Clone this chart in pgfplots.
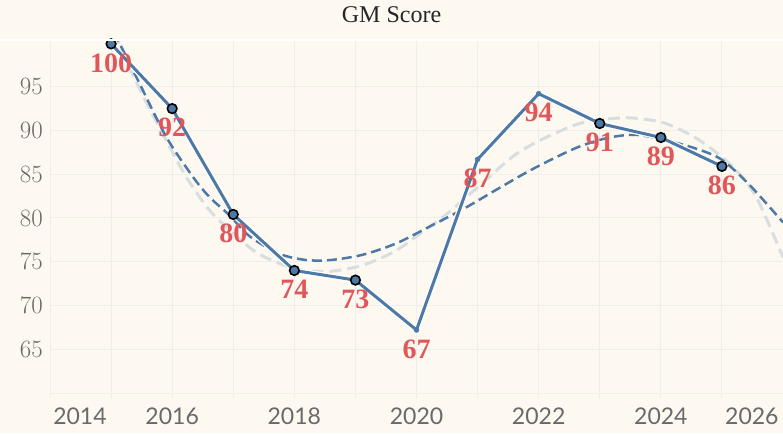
\documentclass[border=0pt]{standalone}
\usepackage{fontspec}
\setmainfont{Liberation Serif}
\newfontfamily\tickfont{Lato}
\usepackage{pgfplots}
\pgfplotsset{compat=1.18}
\definecolor{bg}{RGB}{253,249,241}
\definecolor{gridc}{RGB}{238,239,237}
\definecolor{tblue}{RGB}{78,121,167}
\definecolor{tred}{RGB}{225,87,89}
\definecolor{lgray}{RGB}{216,222,224}
\definecolor{tickc}{RGB}{105,105,105}
\begin{document}
\begin{tikzpicture}
\fill[bg] (-50pt,-40pt) rectangle (733pt,393pt);
\useasboundingbox (-50pt,-40pt) rectangle (733pt,393pt);
\node[font=\fontsize{24}{28}\selectfont, text=black!85, anchor=center] at (341.5pt,378pt) {GM Score};
\begin{axis}[
  at={(0pt,0pt)}, anchor=south west,
  scale only axis, width=733pt, height=353pt,
  xmin=0, xmax=12, ymin=60, ymax=100.34,
  axis background/.style={fill=bg},
  axis x line*=bottom, axis y line*=left,
  x axis line style={draw=gridc, line width=1pt},
  y axis line style={draw=none},
  ytick={65,70,...,95},
  ymajorgrids,
  xtick={0.49,2,4,6,8,10,11.49},
  xticklabels={2014,2016,2018,2020,2022,2024,2026},
  minor xtick={0,1,...,12},
  xminorgrids,
  grid style={draw=gridc, line width=1pt},
  minor grid style={draw=gridc, line width=1pt},
  major tick length=0pt,
  minor tick length=5pt,
  tick align=outside,
  minor x tick style={draw=gridc, line width=1pt},
  tick label style={font=\tickfont\fontsize{23}{26}\selectfont, text=tickc},
  yticklabel style={anchor=east, inner sep=0pt, xshift=-7pt},
  xticklabel style={anchor=north, inner sep=0pt, yshift=-15pt},
]
% light gray trend (higher order)
\addplot[lgray, line width=3pt, dash pattern=on 12pt off 6pt, smooth] coordinates {
(1.05,101.2) (1.45,95.0) (1.90,88.9) (2.23,84.7) (2.61,80.9) (2.99,78.3)
(3.37,76.1) (3.76,74.8) (4.08,74.1) (4.57,73.9) (5.12,74.6) (5.67,76.3)
(6.21,79.0) (6.54,80.7) (7.08,84.0) (7.63,87.3) (8.18,89.4) (8.72,90.9)
(9.27,91.4) (9.59,91.4) (10.08,90.8) (10.63,88.9) (11.17,85.9) (11.56,82.4)
(12.0,75.5)
};
% blue dashed trend (cubic)
\addplot[tblue, line width=2.5pt, dash pattern=on 10pt off 5pt, smooth] coordinates {
(1.05,101.2) (1.45,95.6) (1.90,89.3) (2.34,84.7) (2.61,82.4) (2.94,80.3)
(3.27,77.9) (3.76,75.9) (4.19,75.2) (4.60,75.2) (5.12,75.8) (5.67,77.1)
(6.21,79.0) (6.76,81.0) (7.30,83.2) (7.85,85.4) (8.39,87.3) (8.72,88.3)
(9.16,89.2) (9.59,89.5) (10.08,88.9) (10.63,87.8) (11.01,86.6) (11.45,83.8)
(12.0,79.5)
};
% main line with white halo
\addplot[white, line width=5.5pt, forget plot] coordinates {
(1,99.9) (2,92.5) (3,80.4) (4,74.0) (5,72.9) (6,67.2) (7,86.7)
(8,94.2) (9,90.8) (10,89.2) (11,85.9)
};
\addplot[tblue, line width=3pt] coordinates {
(1,99.9) (2,92.5) (3,80.4) (4,74.0) (5,72.9) (6,67.2) (7,86.7)
(8,94.2) (9,90.8) (10,89.2) (11,85.9)
};
% small dots
\addplot[only marks, mark=*, mark size=2.5pt, mark options={fill=tblue, draw=tblue}] coordinates {
(6,67.2) (7,86.7) (8,94.2)
};
% circled markers
\addplot[only marks, mark=*, mark size=4.8pt, mark options={fill=tblue, draw=black, line width=1.6pt}] coordinates {
(1,99.9) (2,92.5) (3,80.4) (4,74.0) (5,72.9) (9,90.8) (10,89.2) (11,85.9)
};
% labels
\addplot[draw=none, mark=none, nodes near coords, point meta=explicit symbolic,
  every node near coord/.append style={anchor=north, inner sep=0pt, yshift=-9.5pt,
  font=\bfseries\fontsize{28}{30}\selectfont, text=tred}] table[meta=label] {
x y label
1 99.9 100
2 92.5 92
3 80.4 80
4 74.0 74
5 72.9 73
6 67.2 67
7 86.7 87
8 94.2 94
9 90.8 91
10 89.2 89
11 85.9 86
};
\draw[gridc, line width=1pt] (axis cs:0,60) -- ++(-5pt,0);
\end{axis}
\draw[white, line width=2pt] (-50pt,353pt) -- (733pt,353pt);
\end{tikzpicture}
\end{document}
